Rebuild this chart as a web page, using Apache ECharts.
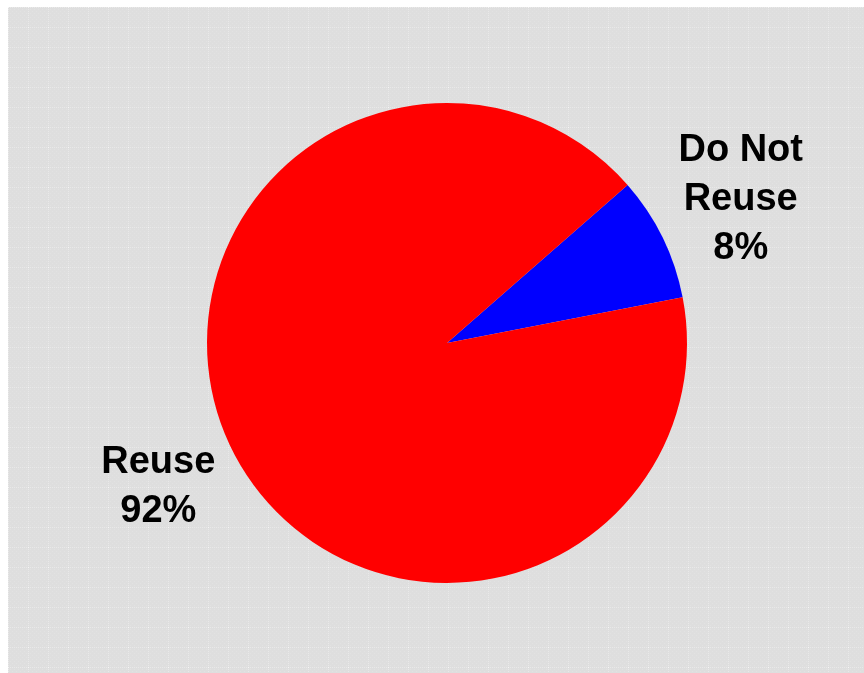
<!DOCTYPE html>
<html>
<head>
<meta charset="utf-8">
<script src="https://cdn.jsdelivr.net/npm/echarts@6/dist/echarts.min.js"></script>
<style>
html,body{margin:0;padding:0;background:#fff;}
#chart{width:864px;height:673px;}
</style>
</head>
<body>
<div id="chart"></div>
<script>
const categories = ['Do Not\nReuse', 'Reuse'];
const values = [8.4, 91.6];
const colors = ['#0000ff', '#ff0000'];

// subtle dotted background texture
const pat = document.createElement('canvas');
pat.width = 20; pat.height = 20;
const pc = pat.getContext('2d');
pc.fillStyle = '#dedede';
pc.fillRect(0, 0, 20, 20);
for (let i = 0; i < 20; i += 2) {
  for (let j = 0; j < 20; j += 2) {
    if (((i + j) / 2) % 2 === 0) { pc.fillStyle = '#e2e2e2'; pc.fillRect(i, j, 1, 1); }
  }
}
pc.fillStyle = '#e9e9e9';
for (let k = 0; k < 20; k += 2) { pc.fillRect(0, k, 1, 1); pc.fillRect(k, 0, 1, 1); }
pc.fillStyle = '#f6f6f6';
pc.fillRect(0, 0, 1, 1);

const chart = echarts.init(document.getElementById('chart'));
const data = categories.map((c, i) => ({ name: c, value: values[i], itemStyle: { color: colors[i] } }));
const labelPads = [[0, 0, 0, 0], [0, 0, 10, 10]];
const labelData = categories.map((c, i) => ({ name: c, value: values[i], label: { padding: labelPads[i] } }));

chart.setOption({
  backgroundColor: '#ffffff',
  animation: false,
  graphic: [{
    type: 'rect', left: 8, top: 7, z: -10,
    shape: { width: 856, height: 666 },
    style: { fill: { image: pat, repeat: 'repeat' } }
  }],
  series: [
    {
      type: 'pie',
      center: [447, 343],
      radius: [0, 240],
      startAngle: 41.2,
      clockwise: true,
      data: data,
      label: { show: false },
      labelLine: { show: false },
      silent: true
    },
    {
      type: 'pie',
      center: [447, 343],
      radius: [240, 408],
      startAngle: 41.2,
      clockwise: true,
      data: labelData,
      itemStyle: { color: 'rgba(0,0,0,0)' },
      silent: true,
      label: {
        show: true,
        position: 'inside',
        formatter: p => p.name + '\n' + Math.round(p.value) + '%',
        fontFamily: 'Liberation Sans, Arial, sans-serif',
        fontWeight: 'bold',
        fontSize: 38,
        lineHeight: 49,
        color: '#000',
        align: 'center'
      },
      labelLine: { show: false }
    }
  ]
});
</script>
</body>
</html>
